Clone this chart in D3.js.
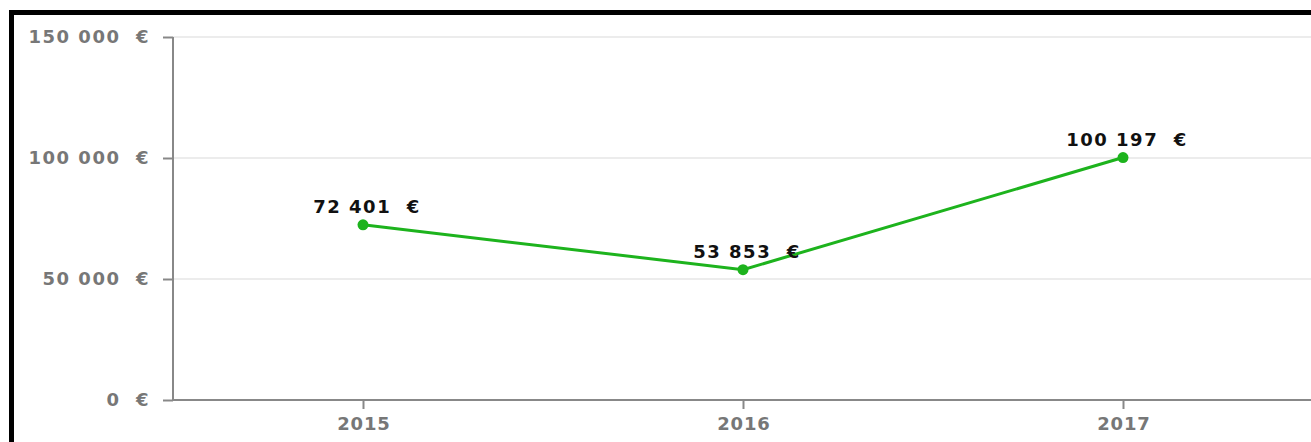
<!DOCTYPE html>
<html><head><meta charset="utf-8">
<script src="https://cdn.jsdelivr.net/npm/d3@7"></script>
<style>html,body{margin:0;padding:0;background:#fff;overflow:hidden}svg{display:block}text{white-space:pre}</style>
</head><body>
<svg id="c" width="1311" height="442"></svg>
<script>
const years = ["2015", "2016", "2017"];
const revenue = [72401, 53853, 100197];
const yTicks = [0, 50000, 100000, 150000];

(function () {
const svg = d3.select("#c");
const W = 1311, H = 442;
const mLeft = 173, mTop = 37, mBottom = 400;

const x = d3.scalePoint().domain(years).range([mLeft, mLeft + 1140]).padding(0.5);
const y = d3.scaleLinear().domain([0, 150000]).range([mBottom, mTop]);

const fmt = v => d3.format(",")(v).replace(/,/g, "\u00a0") + "\u00a0\u00a0€";

// frame border
svg.append("rect").attr("x", 11.5).attr("y", 12.5).attr("width", W + 20).attr("height", H + 20)
  .attr("fill", "none").attr("stroke", "#000").attr("stroke-width", 5);

// grid
svg.append("g").selectAll("line").data(yTicks.filter(d => d > 0)).join("line")
  .attr("x1", mLeft).attr("x2", W).attr("y1", d => y(d)).attr("y2", d => y(d))
  .attr("stroke", "#e6e6e6").attr("stroke-width", 1.5);

// y axis
const yAxis = svg.append("g").attr("transform", `translate(${mLeft},0)`)
  .call(d3.axisLeft(y).tickValues(yTicks).tickSize(10).tickPadding(13).tickFormat(fmt));
yAxis.select(".domain").attr("stroke", "#888").attr("stroke-width", 2).attr("d", `M0,${mTop}V${mBottom}`);
yAxis.selectAll(".tick line").attr("stroke", "#888").attr("stroke-width", 2);
yAxis.selectAll(".tick text").attr("fill", "#777").attr("font-family", "DejaVu Sans").attr("font-weight", "bold")
  .attr("font-size", 18).attr("letter-spacing", 1.5).attr("dy", "0.32em");

// x axis
const xAxis = svg.append("g").attr("transform", `translate(0,${mBottom})`)
  .call(d3.axisBottom(x).tickSize(9).tickPadding(8));
xAxis.select(".domain").attr("stroke", "#888").attr("stroke-width", 2).attr("d", `M${mLeft},0H${W}`);
xAxis.selectAll(".tick line").attr("stroke", "#888").attr("stroke-width", 2);
xAxis.selectAll(".tick text").attr("fill", "#777").attr("font-family", "DejaVu Sans").attr("font-weight", "bold")
  .attr("font-size", 18).attr("letter-spacing", 0.8).attr("dx", 0.4);

const data = years.map((yr, i) => ({yr, v: revenue[i]}));
const green = "#1db31d";

svg.append("path").datum(data)
  .attr("d", d3.line().x(d => x(d.yr)).y(d => y(d.v)))
  .attr("fill", "none").attr("stroke", green).attr("stroke-width", 3);

svg.append("g").selectAll("circle").data(data).join("circle")
  .attr("cx", d => x(d.yr)).attr("cy", d => y(d.v)).attr("r", 5.5).attr("fill", green);

svg.append("g").selectAll("text").data(data).join("text")
  .attr("x", d => x(d.yr) + 4).attr("y", d => y(d.v) - 12)
  .attr("text-anchor", "middle").attr("font-family", "DejaVu Sans").attr("font-weight", "bold")
  .attr("font-size", 18).attr("letter-spacing", 1.5).attr("fill", "#111").text(d => fmt(d.v));
})();
</script>
</body></html>
